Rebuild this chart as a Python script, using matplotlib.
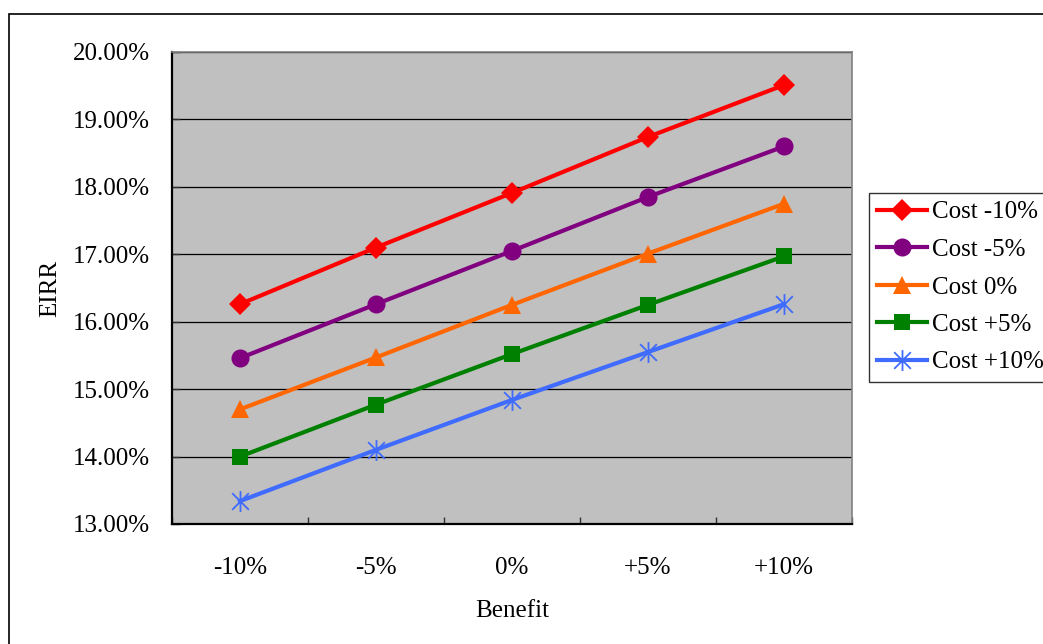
import matplotlib.pyplot as plt
import numpy as np
from matplotlib.path import Path
from matplotlib.patches import Rectangle
from matplotlib.ticker import FixedLocator, FuncFormatter

# EIRR sensitivity to benefit and cost changes
benefit = ['-10%', '-5%', '0%', '+5%', '+10%']
cost_m10 = [16.26, 17.10, 17.91, 18.74, 19.51]
cost_m5 = [15.46, 16.26, 17.05, 17.85, 18.60]
cost_0 = [14.70, 15.47, 16.25, 17.01, 17.75]
cost_p5 = [14.00, 14.77, 15.52, 16.25, 16.97]
cost_p10 = [13.34, 14.10, 14.84, 15.55, 16.26]

series_names = ['Cost -10%', 'Cost -5%', 'Cost 0%', 'Cost +5%', 'Cost +10%']
colors = ['#FF0000', '#800080', '#FF6600', '#008000', '#3F6BFF']

# asterisk marker: vertical bar plus an X
star = Path([(0, -1), (0, 1), (-0.8, -0.8), (0.8, 0.8), (-0.8, 0.8), (0.8, -0.8)],
            [Path.MOVETO, Path.LINETO, Path.MOVETO, Path.LINETO, Path.MOVETO, Path.LINETO])
markers = ['D', 'o', '^', 's', star]
msizes = [11, 13, 13, 12, 15]

plt.rcParams['font.family'] = ['Liberation Serif', 'DejaVu Serif']
FS = 18

fig = plt.figure(figsize=(10.43, 6.44), dpi=100)
ax = fig.add_axes([172 / 1043, 1 - 524 / 644, 680 / 1043, 472 / 644])
ax.set_facecolor('#C0C0C0')

# outer chart border
fig.patches.append(Rectangle((9 / 1043, -0.1), 1.2, 1 - 14 / 644 + 0.1,
                             transform=fig.transFigure, fill=False,
                             edgecolor='black', linewidth=1.2))

x = np.arange(len(benefit))
for vals, name, c, m, ms in zip([cost_m10, cost_m5, cost_0, cost_p5, cost_p10],
                                series_names, colors, markers, msizes):
    ax.plot(x, vals, color=c, linewidth=3, marker=m, markersize=ms,
            markerfacecolor=c, markeredgecolor=c,
            markeredgewidth=1.3 if m is star else 0, label=name, zorder=3)

ax.set_xlim(-0.5, 4.5)
ax.set_ylim(13, 20)
ax.set_yticks(np.arange(13, 20.01, 1))
ax.yaxis.set_major_formatter(FuncFormatter(lambda v, p: f'{v:.2f}%'))
ax.grid(axis='y', color='black', linewidth=0.9, zorder=1)
ax.set_axisbelow(True)

# category ticks sit between categories, labels at the centres
ax.xaxis.set_major_locator(FixedLocator(np.arange(-0.5, 4.6, 1)))
ax.xaxis.set_major_formatter(FuncFormatter(lambda v, p: ''))
ax.xaxis.set_minor_locator(FixedLocator(x))
ax.set_xticklabels(benefit, minor=True)
ax.tick_params(axis='x', which='major', direction='in', length=5, width=1, color='#303030')
ax.tick_params(axis='x', which='minor', length=0, pad=24, labelsize=FS)
ax.tick_params(axis='y', direction='in', length=6, width=1, color='#303030', pad=16, labelsize=FS)

for s in ['left', 'bottom']:
    ax.spines[s].set_color('black')
    ax.spines[s].set_linewidth(1.6)
for s in ['top', 'right']:
    ax.spines[s].set_color('#808080')
    ax.spines[s].set_linewidth(1.2)

ax.set_xlabel('Benefit', fontsize=FS, labelpad=15)
ax.set_ylabel('EIRR', fontsize=FS, labelpad=8)

leg = fig.legend(loc='upper left', bbox_to_anchor=(869 / 1043, 1 - 193 / 644),
                 fontsize=FS, frameon=True, fancybox=False, handlelength=2.0,
                 handletextpad=0.2, borderpad=0.32, labelspacing=0.6,
                 borderaxespad=0)
leg.get_frame().set_edgecolor('black')
leg.get_frame().set_linewidth(1)

fig.savefig('out.png', dpi=100)
